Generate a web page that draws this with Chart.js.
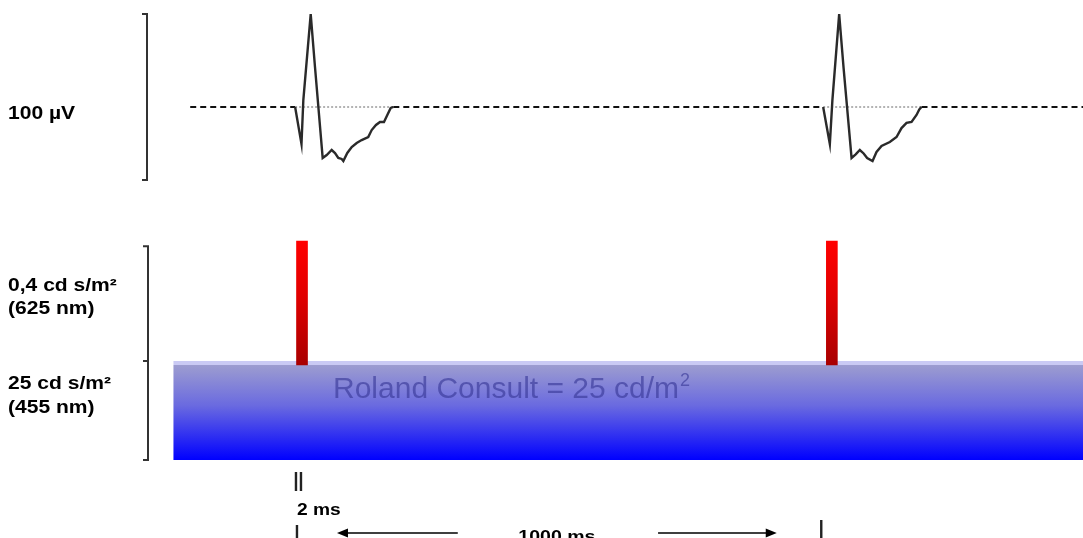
<!DOCTYPE html>
<html>
<head>
<meta charset="utf-8">
<script src="https://cdn.jsdelivr.net/npm/chart.js@4/dist/chart.umd.min.js"></script>
<style>
  html, body { margin: 0; padding: 0; background: #ffffff; }
  #wrap { width: 1083px; height: 538px; position: relative; }
</style>
</head>
<body>
<div id="wrap"><canvas id="c" width="1083" height="538"></canvas></div>
<script>
// ---------- DATA (time in ms after first flash, ERG amplitude in µV) ----------
const wave1Times = [-13, -1, 2.5, 16.4, 24.5, 39, 46.6, 56, 62.3, 68.5, 74.9, 78, 85.5, 93.8, 103.2, 112.6, 125, 131.5, 139.6, 147.2, 154.7, 161, 167.4, 172.3];
const wave1Amps  = [0, -22.3, 4.2, 56, 24.1, -30.7, -28.9, -25.9, -27.7, -30.7, -31.3, -32.5, -27.7, -24.1, -21.7, -19.9, -18.1, -13.9, -10.8, -9, -9, -4.8, -0.6, 0];
const wave2Times = [983.6, 996.2, 1001, 1013.8, 1022, 1037.2, 1045, 1052.8, 1060, 1066.6, 1076.8, 1084.3, 1093.8, 1109.4, 1122.1, 1131.5, 1141, 1150.4, 1159.8, 1165, 1169.2];
const wave2Amps  = [0, -22.3, 4, 56, 24, -30.7, -28.5, -25.9, -28, -30.7, -32.5, -27.1, -23.5, -21.1, -18.1, -12.7, -9.6, -9, -4.8, -1.5, 0];
const baselineRange = [-211, 1474];          // dashed ERG baseline extent (ms)
const flashTimes = [0, 1000];                 // red flash onsets (ms)
const flashLevel = [0.96, 2.21];              // red flash bar, relative stimulus level
const backgroundStart = -243;                 // blue background start (ms)
const backgroundLevel = 1;                    // blue background level (relative)
const ergBracket = [-44, 56];                 // 100 µV calibration bracket
const stimBracket = [0, 1, 2.16];             // stimulus bracket (relative levels)
const labels = {
  erg: "100 µV",
  flash: ["0,4 cd s/m²", "(625 nm)"],
  bg: ["25 cd s/m²", "(455 nm)"],
  roland: "Roland Consult = 25 cd/m",
  rolandSup: "2",
  dur: "2 ms",
  period: "1000 ms"
};

// ---------- build datasets ----------
const w1 = wave1Times.map((t, i) => ({x: t, y: wave1Amps[i]}));
const w2 = wave2Times.map((t, i) => ({x: t, y: wave2Amps[i]}));
const w1s = wave1Times[0], w1e = wave1Times[wave1Times.length - 1];
const w2s = wave2Times[0], w2e = wave2Times[wave2Times.length - 1];
const waveData = [...w1, {x: (w1e + w2s) / 2, y: null}, ...w2];
const dashedBase = [
  {x: baselineRange[0], y: 0}, {x: w1s, y: 0}, {x: w1s + 1, y: null},
  {x: w1e, y: 0}, {x: w2s, y: 0}, {x: w2s + 1, y: null},
  {x: w2e, y: 0}, {x: baselineRange[1], y: 0}
];
const dottedBase = [
  {x: w1s, y: 0}, {x: w1e, y: 0}, {x: (w1e + w2s) / 2, y: null},
  {x: w2s, y: 0}, {x: w2e, y: 0}
];
const bgData = [{x: backgroundStart, y: backgroundLevel}, {x: baselineRange[1] + 10, y: backgroundLevel}];
const flashData = flashTimes.map(t => ({x: t, y: flashLevel}));

const FONT = '"Liberation Sans", Arial, sans-serif';

function blueGradient(ctx) {
  const chart = ctx.chart;
  if (!chart.chartArea) return 'rgba(0,0,255,0.6)';
  const ys = chart.scales.yStim;
  const top = ys.getPixelForValue(backgroundLevel);
  const bot = ys.getPixelForValue(0);
  const g = chart.ctx.createLinearGradient(0, top, 0, bot);
  g.addColorStop(0, '#cacaf4');
  g.addColorStop(0.04, '#cacaf4');
  g.addColorStop(0.045, '#9c9cd0');
  g.addColorStop(0.45, '#6a6ae0');
  g.addColorStop(1, '#0000ff');
  return g;
}
function redGradient(ctx) {
  const chart = ctx.chart;
  if (!chart.chartArea) return '#ff0000';
  const ys = chart.scales.yStim;
  const top = ys.getPixelForValue(flashLevel[1]);
  const bot = ys.getPixelForValue(flashLevel[0]);
  const g = chart.ctx.createLinearGradient(0, top, 0, bot);
  g.addColorStop(0, '#ff0000');
  g.addColorStop(0.45, '#e00000');
  g.addColorStop(1, '#a80000');
  return g;
}

function stretchedText(c, text, x, y, size, sx, align) {
  c.save();
  c.font = 'bold ' + size + 'px ' + FONT;
  const w = c.measureText(text).width * sx;
  let x0 = x;
  if (align === 'center') x0 = x - w / 2;
  c.translate(x0, y);
  c.scale(sx, 1);
  c.textAlign = 'left';
  c.textBaseline = 'alphabetic';
  c.fillText(text, 0, 0);
  c.restore();
}

const annotations = {
  id: 'annotations',
  afterDatasetsDraw(chart) {
    const c = chart.ctx;
    const xs = chart.scales.x, ye = chart.scales.yErg, ys = chart.scales.yStim;
    c.save();
    c.fillStyle = '#000';
    c.strokeStyle = '#333';
    c.lineWidth = 2;
    c.lineCap = 'butt';

    // ERG calibration bracket
    const bx = 147;
    const bt = ye.getPixelForValue(ergBracket[1]);
    const bb = ye.getPixelForValue(ergBracket[0]);
    c.beginPath();
    c.moveTo(bx - 5, bt); c.lineTo(bx, bt); c.lineTo(bx, bb); c.lineTo(bx - 5, bb);
    c.stroke();

    // Stimulus bracket
    const sx = 148;
    const s0 = ys.getPixelForValue(stimBracket[0]);
    const s1 = ys.getPixelForValue(stimBracket[1]);
    const s2 = ys.getPixelForValue(stimBracket[2]);
    c.beginPath();
    c.moveTo(sx - 5, s2); c.lineTo(sx, s2); c.lineTo(sx, s0); c.lineTo(sx - 5, s0);
    c.moveTo(sx - 5, s1); c.lineTo(sx, s1);
    c.stroke();

    // left labels
    c.fillStyle = '#000';
    stretchedText(c, labels.erg, 8, 119, 18, 1.17);
    stretchedText(c, labels.flash[0], 8, 291, 18, 1.17);
    stretchedText(c, labels.flash[1], 8, 314, 18, 1.17);
    stretchedText(c, labels.bg[0], 8, 389, 18, 1.17);
    stretchedText(c, labels.bg[1], 8, 413, 18, 1.17);

    // Roland Consult text
    c.font = '30px ' + FONT;
    c.fillStyle = 'rgba(55,55,150,0.62)';
    c.textAlign = 'left';
    c.textBaseline = 'alphabetic';
    const rx = xs.getPixelForValue(58.5);
    const ry = ys.getPixelForValue(0.63);
    c.fillText(labels.roland, rx, ry);
    const rw = c.measureText(labels.roland).width;
    c.font = '18px ' + FONT;
    c.fillText(labels.rolandSup, rx + rw + 1, ry - 12);

    // bottom timing marks
    c.strokeStyle = '#222';
    c.lineWidth = 2.4;
    const m1 = xs.getPixelForValue(-9.5);
    const m2 = xs.getPixelForValue(980);
    c.beginPath();
    c.moveTo(m1 - 1, 472); c.lineTo(m1 - 1, 491);
    c.moveTo(m1 + 4, 472); c.lineTo(m1 + 4, 491);
    c.moveTo(m1, 525); c.lineTo(m1, 538);
    c.moveTo(m2, 520); c.lineTo(m2, 538);
    c.stroke();

    c.fillStyle = '#000';
    stretchedText(c, labels.dur, m1, 515, 16, 1.2);
    stretchedText(c, labels.period, xs.getPixelForValue(481), 542, 16, 1.22, 'center');

    // arrows
    const ay = 533;
    const la = xs.getPixelForValue(66), lt = xs.getPixelForValue(294);
    const rt = xs.getPixelForValue(672), ra = xs.getPixelForValue(896);
    c.lineWidth = 1.6;
    c.strokeStyle = '#000';
    c.beginPath();
    c.moveTo(la + 8, ay); c.lineTo(lt, ay);
    c.moveTo(rt, ay); c.lineTo(ra - 8, ay);
    c.stroke();
    c.beginPath();
    c.moveTo(la, ay); c.lineTo(la + 11, ay - 4.5); c.lineTo(la + 11, ay + 4.5); c.closePath();
    c.moveTo(ra, ay); c.lineTo(ra - 11, ay - 4.5); c.lineTo(ra - 11, ay + 4.5); c.closePath();
    c.fill();
    c.restore();
  }
};

new Chart(document.getElementById('c'), {
  type: 'line',
  data: {
    datasets: [
      {
        label: 'ERG',
        data: waveData,
        yAxisID: 'yErg',
        borderColor: '#2a2a2a',
        borderWidth: 2.4,
        pointRadius: 0,
        tension: 0,
        spanGaps: false,
        fill: false,
        order: 0
      },
      {
        label: 'Baseline',
        data: dashedBase,
        yAxisID: 'yErg',
        borderColor: '#111111',
        borderWidth: 2,
        borderDash: [6, 4],
        pointRadius: 0,
        spanGaps: false,
        fill: false,
        order: 1
      },
      {
        label: 'Baseline dotted',
        data: dottedBase,
        yAxisID: 'yErg',
        borderColor: '#9a9a9a',
        borderWidth: 1.5,
        borderDash: [2, 2],
        pointRadius: 0,
        spanGaps: false,
        fill: false,
        order: 2
      },
      {
        type: 'bar',
        label: 'Flash',
        data: flashData,
        yAxisID: 'yStim',
        backgroundColor: redGradient,
        borderWidth: 0,
        barThickness: 11,
        grouped: false,
        order: 3
      },
      {
        label: 'Background',
        data: bgData,
        yAxisID: 'yStim',
        borderColor: 'rgba(0,0,0,0)',
        borderWidth: 0,
        pointRadius: 0,
        backgroundColor: blueGradient,
        fill: {value: 0},
        order: 4
      }
    ]
  },
  options: {
    responsive: false,
    animation: false,
    devicePixelRatio: 1,
    layout: { padding: 0 },
    plugins: { legend: { display: false }, tooltip: { enabled: false } },
    scales: {
      x: { type: 'linear', min: -570, max: 1474, offset: false, display: false },
      yErg: { type: 'linear', min: -259.64, max: 64.46, display: false },
      yStim: { type: 'linear', min: -0.788, max: 4.646, display: false }
    }
  },
  plugins: [annotations]
});
</script>
</body>
</html>
